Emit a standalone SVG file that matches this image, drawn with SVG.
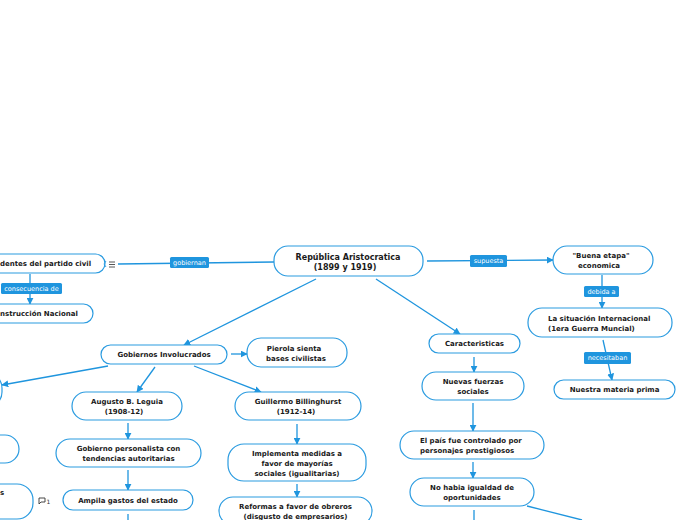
<svg xmlns="http://www.w3.org/2000/svg" width="696" height="520" viewBox="0 0 696 520">
<defs>
<marker id="ah" viewBox="0 0 10 10" refX="9" refY="5" markerWidth="7" markerHeight="7" orient="auto" markerUnits="userSpaceOnUse"><path d="M0,0 L10,5 L0,10 z" fill="#1f95de"/></marker>
<style>
.n rect{fill:#fff;stroke:#2a9be0;stroke-width:1.2}
.n text{font-family:"DejaVu Sans",Verdana,sans-serif;font-weight:bold;font-size:7px;fill:#1a1a1a;text-anchor:middle}
.c line,.c path{stroke:#1f95de;stroke-width:1.3;fill:none}
.c .a{marker-end:url(#ah)}
.lb rect{fill:#1f95de}
.lb text{font-family:"DejaVu Sans",Verdana,sans-serif;font-size:6.5px;fill:#fff;text-anchor:middle}
</style>
</defs>
<rect width="696" height="520" fill="#fff"/>
<g class="c" id="connectors">
<line x1="274" y1="262" x2="118" y2="264"/>
<line class="a" x1="30" y1="274" x2="30" y2="304"/>
<line class="a" x1="427" y1="261" x2="553" y2="260"/>
<line class="a" x1="602" y1="275" x2="602" y2="308"/>
<line class="a" x1="603" y1="340" x2="612" y2="380"/>
<line class="a" x1="376" y1="279" x2="460" y2="334"/>
<line class="a" x1="474" y1="357" x2="474" y2="372"/>
<line class="a" x1="473" y1="403" x2="473" y2="431"/>
<line class="a" x1="473" y1="462" x2="473" y2="478"/>
<line x1="474" y1="510" x2="474" y2="520"/>
<line x1="527" y1="506" x2="582" y2="520"/>
<line class="a" x1="316" y1="279" x2="184" y2="345"/>
<line class="a" x1="231" y1="354" x2="247" y2="354"/>
<line class="a" x1="108" y1="366" x2="2" y2="385"/>
<line class="a" x1="155" y1="367" x2="137" y2="392"/>
<line class="a" x1="128" y1="423" x2="128" y2="439"/>
<line class="a" x1="128" y1="470" x2="128" y2="490"/>
<line x1="128" y1="514" x2="128" y2="520"/>
<line class="a" x1="194" y1="366" x2="261" y2="392"/>
<line class="a" x1="297" y1="424" x2="297" y2="444"/>
<line class="a" x1="297" y1="484" x2="297" y2="497"/>
</g>
<g class="lb" id="label-gobiernan"><rect x="170" y="257" width="39" height="11" rx="1.5"/><text x="189.5" y="264.8">gobiernan</text></g>
<g class="lb" id="label-consecuencia"><rect x="1" y="283" width="61" height="11" rx="1.5"/><text x="31.5" y="290.8">consecuencia de</text></g>
<g class="lb" id="label-supuesta"><rect x="470" y="255" width="37" height="12" rx="1.5"/><text x="488.5" y="263.3">supuesta</text></g>
<g class="lb" id="label-debida"><rect x="584" y="286" width="35" height="11" rx="1.5"/><text x="601.5" y="293.8">debida a</text></g>
<g class="lb" id="label-necesitaban"><rect x="584" y="352" width="47" height="12" rx="1.5"/><text x="607.5" y="360.3">necesitaban</text></g>
<g class="n" id="n-central"><rect x="274" y="246" width="149" height="30" rx="14"/><text x="348" y="259.5" style="font-size:8px">República Aristocratica</text><text x="345" y="269.5" style="font-size:8px">(1899 y 1919)</text></g>
<g class="n" id="n-presidentes"><rect x="-60" y="254" width="165" height="19" rx="9.5"/><text x="0" y="266" style="text-anchor:start">dentes del partido civil</text></g>
<g id="icon-list"><path d="M109,262 h6 M109,264.5 h6 M109,267 h6" stroke="#444" stroke-width="0.9"/><path d="M106,261 l-2,3 l2,3" stroke="#2a9be0" fill="none" stroke-width="0.9"/></g>
<g class="n" id="n-instruccion"><rect x="-60" y="304" width="153" height="19" rx="9.5"/><text x="0" y="316" style="text-anchor:start">nstrucción Nacional</text></g>
<g class="n" id="n-buena"><rect x="553" y="246" width="100" height="28" rx="14"/><text x="601" y="258">"Buena etapa"</text><text x="599" y="268">economica</text></g>
<g class="n" id="n-situacion"><rect x="528" y="308" width="144" height="29" rx="14"/><text x="548" y="320.5" style="text-anchor:start">La situación Internacional</text><text x="548" y="330.5" style="text-anchor:start">(1era Guerra Muncial)</text></g>
<g class="n" id="n-materia"><rect x="554" y="380" width="121" height="19" rx="9.5"/><text x="614.5" y="392">Nuestra materia prima</text></g>
<g class="n" id="n-caracteristicas"><rect x="429" y="334" width="91" height="19" rx="9.5"/><text x="474.5" y="346">Caracteristicas</text></g>
<g class="n" id="n-nuevas"><rect x="422" y="372" width="102" height="28" rx="14"/><text x="473" y="384">Nuevas fuerzas</text><text x="473" y="394">sociales</text></g>
<g class="n" id="n-pais"><rect x="400" y="431" width="144" height="28" rx="14"/><text x="420" y="443" style="text-anchor:start">El país fue controlado por</text><text x="420" y="453" style="text-anchor:start">personajes prestigiosos</text></g>
<g class="n" id="n-igualdad"><rect x="410" y="478" width="124" height="28" rx="14"/><text x="472" y="490">No habia igualdad de</text><text x="472" y="500">oportunidades</text></g>
<g class="n" id="n-gobiernos"><rect x="101" y="345" width="126" height="19" rx="9.5"/><text x="164" y="357">Gobiernos Involucrados</text></g>
<g class="n" id="n-pierola"><rect x="247" y="338" width="100" height="29" rx="14"/><text x="294" y="350.5">Pierola sienta</text><text x="296" y="360.5">bases civilistas</text></g>
<g class="n" id="n-left1"><rect x="-60" y="373" width="62" height="34" rx="15"/></g>
<g class="n" id="n-left2"><rect x="-60" y="435" width="79" height="28" rx="14"/></g>
<g class="n" id="n-left3"><rect x="-60" y="484" width="93" height="35" rx="16"/><text x="0" y="495" style="text-anchor:start">s</text></g>
<g id="icon-comment"><path d="M39,498 h6 v4 h-4 l-2,2 z" fill="none" stroke="#333" stroke-width="0.9"/><text x="46.5" y="504" style="font-family:'DejaVu Sans',sans-serif;font-size:6px;fill:#333">1</text></g>
<g class="n" id="n-leguia"><rect x="72" y="392" width="110" height="28" rx="14"/><text x="127" y="404">Augusto B. Leguia</text><text x="124" y="414">(1908-12)</text></g>
<g class="n" id="n-personalista"><rect x="56" y="439" width="145" height="28" rx="14"/><text x="128.5" y="451">Gobierno personalista con</text><text x="128.5" y="461">tendencias autoritarias</text></g>
<g class="n" id="n-gastos"><rect x="63" y="490" width="130" height="20" rx="10"/><text x="128" y="502.5">Ampila gastos del estado</text></g>
<g class="n" id="n-billinghurst"><rect x="235" y="392" width="126" height="28" rx="14"/><text x="298" y="404">Guillermo Billinghurst</text><text x="296" y="414">(1912-14)</text></g>
<g class="n" id="n-implementa"><rect x="228" y="444" width="138" height="37" rx="16"/><text x="297" y="456">Implementa medidas a</text><text x="297" y="466">favor de mayorías</text><text x="297" y="476">sociales (igualitarias)</text></g>
<g class="n" id="n-reformas"><rect x="219" y="497" width="153" height="28" rx="14"/><text x="295.5" y="509">Reformas a favor de obreros</text><text x="295.5" y="519">(disgusto de empresarios)</text></g>
</svg>
